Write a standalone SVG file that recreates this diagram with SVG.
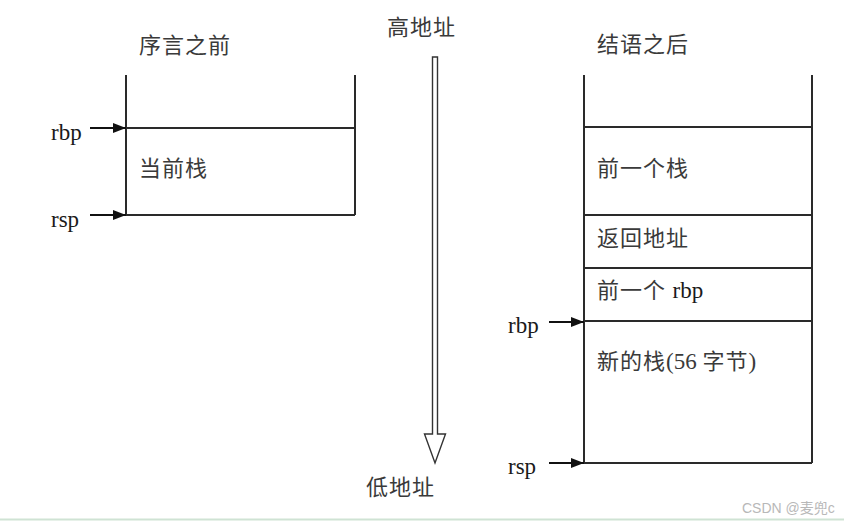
<svg xmlns="http://www.w3.org/2000/svg" width="844" height="522" viewBox="0 0 844 522">
<style>
.box{stroke:#2a2a2a;stroke-width:2;fill:none}
.ptr{stroke:#111;stroke-width:2.2;fill:none}
.cjk{font-family:"Liberation Serif","Noto Sans CJK SC",serif;font-size:22px;fill:#3a3a3a;letter-spacing:1px}
.reg{font-family:"Liberation Serif","Noto Sans CJK SC",serif;font-size:23px;fill:#1a1a1a}
.wm{font-family:"Liberation Sans","Noto Sans CJK SC",sans-serif;font-size:14px;fill:#b8b8b8}
</style>
<defs>
<marker id="ah" markerWidth="13" markerHeight="10" refX="13" refY="5" orient="auto" markerUnits="userSpaceOnUse">
<path d="M0,0 L13,5 L0,10 Z" fill="#111"/>
</marker>
</defs>
<rect width="844" height="522" fill="#fff"/>
<g id="titles">
<text class="cjk" x="139" y="53">序言之前</text>
<text class="cjk" x="387" y="35">高地址</text>
<text class="cjk" x="366" y="495">低地址</text>
<text class="cjk" x="597" y="52">结语之后</text>
</g>
<g id="stack-before">
<path class="box" d="M126,75 V215 M355,75 V215 M126,128 H355 M126,215 H355"/>
<text class="cjk" x="139" y="176">当前栈</text>
</g>
<g id="stack-after">
<path class="box" d="M584,75 V463 M812,75 V463 M584,127 H812 M584,215 H812 M584,268 H812 M584,321 H812 M584,463 H812"/>
<text class="cjk" x="597" y="176">前一个栈</text>
<text class="cjk" x="597" y="246">返回地址</text>
<text class="cjk" x="597" y="298">前一个 <tspan class="reg" style="letter-spacing:0">rbp</tspan></text>
<text class="cjk" x="597" y="369">新的栈<tspan style="font-family:'Liberation Serif',serif;font-size:23px;letter-spacing:0">(56 </tspan>字节<tspan style="font-family:'Liberation Serif',serif;font-size:23px;letter-spacing:0">)</tspan></text>
</g>
<g id="address-arrow">
<path d="M432.5,434 V57 H437.5 V434 H445.5 L435,463 L424.5,434 Z" fill="#fff" stroke="#333" stroke-width="1.4"/>
</g>
<g id="labels">
<text class="reg" x="51" y="140">rbp</text>
<text class="reg" x="51" y="227">rsp</text>
<text class="reg" x="508" y="333">rbp</text>
<text class="reg" x="508" y="474">rsp</text>
</g>
<g id="connectors">
<line class="ptr" x1="90" y1="128" x2="126" y2="128" marker-end="url(#ah)"/>
<line class="ptr" x1="90" y1="215" x2="126" y2="215" marker-end="url(#ah)"/>
<line class="ptr" x1="549" y1="322" x2="584" y2="322" marker-end="url(#ah)"/>
<line class="ptr" x1="549" y1="463" x2="584" y2="463" marker-end="url(#ah)"/>
</g>
<text class="wm" x="742" y="513">CSDN @麦兜c</text>
<line x1="0" y1="519.5" x2="844" y2="519.5" stroke="#cfe3d4" stroke-width="2"/>
</svg>
